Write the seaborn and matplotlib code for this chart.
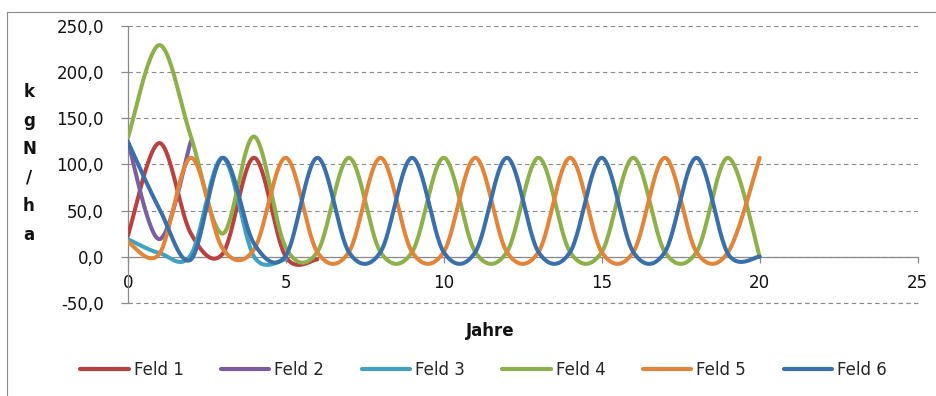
import numpy as np
import pandas as pd
import matplotlib
matplotlib.use("Agg")
import matplotlib.pyplot as plt
import seaborn as sns
from matplotlib.lines import Line2D
from matplotlib.ticker import FuncFormatter

# Yearly nitrogen values (kg N/ha) per field
feld_1 = [22, 123, 25, 3, 107, 0, -3]
feld_2 = [125, 19, 125]
feld_3 = [19, 4, 2, 107, 0, -3]
feld_4 = [128, 229, 130, 25, 130, 10, 5, 107, 5, 5, 107, 5, 5, 107,
          5, 5, 107, 5, 5, 107, 0]
feld_5 = [16, 3, 107, 9, 8, 107, 5, 5, 107, 5, 5, 107, 5, 5, 107,
          5, 5, 107, 5, 5, 107]
feld_6 = [125, 52, -3, 107, 14, 1, 107, 5, 5, 107, 5, 5, 107, 5, 5,
          107, 5, 5, 107, 3, 0]

series_names = ["Feld 1", "Feld 2", "Feld 3", "Feld 4", "Feld 5", "Feld 6"]
series_values = [feld_1, feld_2, feld_3, feld_4, feld_5, feld_6]
series_colors = ["#B8423F", "#7B5EA0", "#41A2BF", "#8DB04B", "#E2853A", "#3A6FAA"]

y_ticks = [-50, 0, 50, 100, 150, 200, 250]
x_ticks = [0, 5, 10, 15, 20, 25]

W, H = 937, 396


def smooth_line(ys, n=48):
    """Smoothed line through yearly values: cubic Bezier segments with
    Catmull-Rom control points (tangent from the two neighbours)."""
    xs = np.arange(len(ys), dtype=float)
    P = np.column_stack([xs, np.asarray(ys, float)])
    m = len(P)
    pts = [P[0]]
    t = np.linspace(0, 1, n)[1:, None]
    for i in range(m - 1):
        p0 = P[i - 1] if i > 0 else P[i]
        p1, p2 = P[i], P[i + 1]
        p3 = P[i + 2] if i + 2 < m else P[i + 1]
        c1 = p1 + (p2 - p0) / 6.0
        c2 = p2 - (p3 - p1) / 6.0
        seg = ((1 - t) ** 3) * p1 + 3 * ((1 - t) ** 2) * t * c1 \
            + 3 * (1 - t) * t ** 2 * c2 + t ** 3 * p2
        pts.extend(seg)
    pts = np.array(pts)
    return pts[:, 0], pts[:, 1]


frames = []
for name, vals in zip(series_names, series_values):
    sx, sy = smooth_line(vals)
    frames.append(pd.DataFrame({"Jahre": sx, "kgN": sy, "Feld": name}))
df = pd.concat(frames, ignore_index=True)

sns.set_theme(style="white")
plt.rcParams["font.family"] = ["DejaVu Sans"]

fig = plt.figure(figsize=(W / 100, H / 100), dpi=100)
left, right, top, bottom = 127.7, 917.7, 25.7, 302.9
ax = fig.add_axes([left / W, 1 - bottom / H, (right - left) / W, (bottom - top) / H])

sns.lineplot(data=df, x="Jahre", y="kgN", hue="Feld", hue_order=series_names,
             palette=series_colors, estimator=None, sort=False,
             linewidth=2.9, ax=ax)

gray = "#8a8a8a"
ax.set_xlim(0, 25)
ax.set_ylim(-50, 250)
ax.set_xticks(x_ticks)
ax.set_yticks(y_ticks)
ax.yaxis.set_major_formatter(FuncFormatter(lambda v, p: f"{v:.1f}".replace(".", ",")))
ax.set_xlabel("")
ax.set_ylabel("")

grid_style = dict(color=gray, linestyle=(0, (4, 3)), linewidth=0.8)
ax.grid(axis="y", **grid_style)
ax.grid(axis="x", visible=False)
ax.axhline(-50, clip_on=False, zorder=0.5, **grid_style)
ax.set_axisbelow(True)

for s in ("top", "right"):
    ax.spines[s].set_visible(False)
ax.spines["left"].set_color(gray)
ax.spines["left"].set_linewidth(0.9)
ax.spines["bottom"].set_position(("data", 0))
ax.spines["bottom"].set_color(gray)
ax.spines["bottom"].set_linewidth(0.9)
ax.spines["bottom"].set_zorder(1)
ax.spines["left"].set_zorder(1)

ax.tick_params(axis="y", left=True, direction="out", length=5, width=0.9,
               color=gray, pad=12, labelsize=12, labelcolor="#111111")
ax.tick_params(axis="x", bottom=True, direction="out", length=4.5, width=0.9,
               color=gray, pad=8, labelsize=12, labelcolor="#111111")

sns.move_legend(ax, loc="center", bbox_to_anchor=((483.5 - left) / (right - left),
                                                   (bottom - 370) / (bottom - top)),
                ncol=6, frameon=False, title=None, fontsize=12,
                handlelength=2.9, handletextpad=0.3, columnspacing=2.25)
for line in ax.get_legend().get_lines():
    line.set_linewidth(3.0)

fig.text(490 / W, 1 - 331 / H, "Jahre", ha="center", va="center",
         fontsize=12, fontweight="bold", color="#111111")
for i, ch in enumerate("kgN/ha"):
    fig.text(29 / W, 1 - (97 + 28.6 * i) / H, ch, ha="center", va="baseline",
             fontsize=12, fontweight="bold", color="#111111")

# chart area frame
fig.add_artist(Line2D([7.5 / W, 7.5 / W], [0, 1 - 11.5 / H],
                      transform=fig.transFigure, color=gray, lw=0.8))
fig.add_artist(Line2D([7.5 / W, 1.0], [1 - 11.5 / H, 1 - 11.5 / H],
                      transform=fig.transFigure, color=gray, lw=0.8))

fig.savefig("out.png", dpi=100)
